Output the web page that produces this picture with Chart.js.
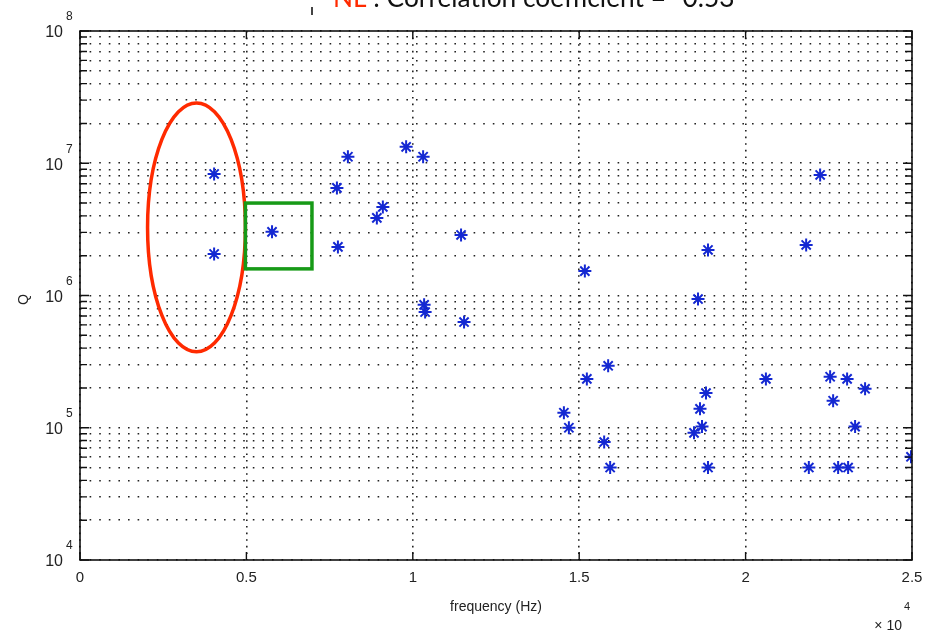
<!DOCTYPE html>
<html>
<head>
<meta charset="utf-8">
<script src="https://cdn.jsdelivr.net/npm/chart.js@4/dist/chart.umd.min.js"></script>
<style>
  body { margin: 0; background: #fff; }
  canvas { display: block; }
</style>
</head>
<body>
<canvas id="myChart" width="926" height="636"></canvas>
<script>
// frequency in units of 10^4 Hz, Q on a log axis
const freq = [0.403, 0.403, 0.577, 0.772, 0.805, 0.775, 0.892, 0.910, 0.980, 1.031,
              1.145, 1.034, 1.037, 1.154, 1.517, 1.523, 1.587, 1.454, 1.469, 1.575,
              1.593, 1.857, 1.887, 1.881, 1.863, 1.869, 1.845, 1.887, 2.061, 2.182,
              2.224, 2.190, 2.254, 2.305, 2.359, 2.263, 2.329, 2.278, 2.308, 2.497];
const qValues = [8.30e6, 2.06e6, 3.03e6, 6.51e6, 1.12e7, 2.33e6, 3.86e6, 4.67e6, 1.33e7, 1.12e7,
                 2.87e6, 8.5e5, 7.5e5, 6.3e5, 1.53e6, 2.34e5, 2.94e5, 1.30e5, 1.0e5, 7.8e4,
                 5.0e4, 9.4e5, 2.21e6, 1.83e5, 1.39e5, 1.02e5, 9.15e4, 5.0e4, 2.34e5, 2.41e6,
                 8.16e6, 5.0e4, 2.43e5, 2.34e5, 1.97e5, 1.60e5, 1.02e5, 5.0e4, 5.0e4, 6.03e4];

const xTicks = [0, 0.5, 1, 1.5, 2, 2.5];
const xTickLabels = ['0', '0.5', '1', '1.5', '2', '2.5'];
const yDecades = [4, 5, 6, 7, 8];

const titleRed = 'NL';
const titleRest = ' : Correlation coefficient = -0.53';
const xLabel = 'frequency (Hz)';
const yLabel = 'Q';

// highlighted regions (data units)
const ellipseBox = { x0: 0.203, x1: 0.497, q0: 10 ** 5.574, q1: 10 ** 7.456 };
const rectBox = { x0: 0.497, x1: 0.697, q0: 1.59e6, q1: 5.0e6 };

// every 1..9 x 10^k value gets a dotted line, like matlab's minor grid
let yGridValues = [];
for (let d = yDecades[0]; d < yDecades[yDecades.length - 1]; d++) {
    for (let m = 1; m < 10; m++) yGridValues.push(m * 10 ** d);
}
yGridValues.push(10 ** yDecades[yDecades.length - 1]);

const points = freq.map((f, i) => ({ x: f, y: qValues[i] }));

const LABEL_FONT = '"Liberation Sans", Arial, sans-serif';

const overlay = {
    id: 'overlay',
    beforeDraw(chart) {
        const ctx = chart.ctx;
        ctx.save();
        ctx.fillStyle = '#fff';
        ctx.fillRect(0, 0, chart.width, chart.height);
        ctx.restore();
    },
    afterDraw(chart) {
        const { ctx, chartArea: a, scales } = chart;
        const xs = scales.x, ys = scales.y;
        ctx.save();

        // box
        ctx.strokeStyle = '#111';
        ctx.lineWidth = 1.6;
        ctx.strokeRect(a.left, a.top, a.right - a.left, a.bottom - a.top);

        // inward tick marks
        ctx.lineWidth = 1.4;
        ctx.beginPath();
        yGridValues.forEach(v => {
            let py = ys.getPixelForValue(v);
            let len = Number.isInteger(Math.log10(v)) ? 9 : 7;
            ctx.moveTo(a.left, py); ctx.lineTo(a.left + len, py);
            ctx.moveTo(a.right, py); ctx.lineTo(a.right - len, py);
        });
        xTicks.forEach(v => {
            let px = xs.getPixelForValue(v);
            ctx.moveTo(px, a.bottom); ctx.lineTo(px, a.bottom - 8);
            ctx.moveTo(px, a.top); ctx.lineTo(px, a.top + 8);
        });
        ctx.stroke();

        // y tick labels 10^k
        ctx.fillStyle = '#222';
        yDecades.forEach(d => {
            let py = ys.getPixelForValue(10 ** d);
            ctx.font = '16px ' + LABEL_FONT;
            ctx.textAlign = 'right';
            ctx.textBaseline = 'middle';
            ctx.fillText('10', 63, py + 2);
            ctx.font = '12px ' + LABEL_FONT;
            ctx.textAlign = 'left';
            ctx.fillText(String(d), 66, py - 14);
        });

        // x tick labels
        ctx.font = '15px ' + LABEL_FONT;
        ctx.textAlign = 'center';
        ctx.textBaseline = 'middle';
        xTicks.forEach((v, i) => {
            ctx.fillText(xTickLabels[i], xs.getPixelForValue(v), 578);
        });

        // axis labels
        ctx.font = '14px ' + LABEL_FONT;
        ctx.fillText(xLabel, (a.left + a.right) / 2, 607);
        ctx.save();
        ctx.translate(24, (a.top + a.bottom) / 2 + 4);
        ctx.rotate(-Math.PI / 2);
        ctx.fillText(yLabel, 0, 0);
        ctx.restore();

        // x10^4 multiplier
        ctx.font = '14px ' + LABEL_FONT;
        ctx.textAlign = 'right';
        ctx.fillText('\u00d7 10', 902, 626);
        ctx.font = '11px ' + LABEL_FONT;
        ctx.textAlign = 'left';
        ctx.fillText('4', 904, 607);

        // red ellipse
        let ex0 = xs.getPixelForValue(ellipseBox.x0), ex1 = xs.getPixelForValue(ellipseBox.x1);
        let ey0 = ys.getPixelForValue(ellipseBox.q1), ey1 = ys.getPixelForValue(ellipseBox.q0);
        ctx.strokeStyle = '#ff2a00';
        ctx.lineWidth = 3.5;
        ctx.beginPath();
        ctx.ellipse((ex0 + ex1) / 2, (ey0 + ey1) / 2, (ex1 - ex0) / 2, (ey1 - ey0) / 2, 0, 0, Math.PI * 2);
        ctx.stroke();

        // green rectangle
        let rx0 = xs.getPixelForValue(rectBox.x0), rx1 = xs.getPixelForValue(rectBox.x1);
        let ry0 = ys.getPixelForValue(rectBox.q1), ry1 = ys.getPixelForValue(rectBox.q0);
        ctx.strokeStyle = '#179a17';
        ctx.strokeRect(rx0, ry0, rx1 - rx0, ry1 - ry0);

        // title, cut off at the top edge
        ctx.textAlign = 'left';
        ctx.textBaseline = 'alphabetic';
        ctx.font = '100px Lato, "Open Sans", sans-serif';
        let w100 = ctx.measureText(titleRed + titleRest).width;
        let size = 100 * 402 / w100;
        ctx.font = size.toFixed(1) + 'px Lato, "Open Sans", sans-serif';
        ctx.fillStyle = '#ff2a00';
        ctx.fillText(titleRed, 333, 7);
        let wRed = ctx.measureText(titleRed).width;
        ctx.fillStyle = '#111';
        ctx.fillText(titleRest, 333 + wRed, 7);

        // stray mark left of the title
        ctx.fillStyle = '#444';
        ctx.fillRect(311, 7, 2, 8);

        ctx.restore();
    }
};

const CTX = document.getElementById('myChart').getContext('2d');
const myChart = new Chart(CTX, {
    type: 'scatter',
    data: {
        datasets: [{
            data: points,
            pointStyle: 'star',
            pointRadius: 6.5,
            borderColor: '#1428d2',
            backgroundColor: '#1428d2',
            borderWidth: 2
        }]
    },
    options: {
        responsive: false,
        animation: false,
        layout: { padding: { left: 80, right: 14, top: 31, bottom: 76 } },
        plugins: { legend: { display: false }, tooltip: { enabled: false } },
        scales: {
            x: {
                type: 'linear',
                min: 0, max: 2.5,
                afterBuildTicks: s => { s.ticks = xTicks.map(v => ({ value: v })); },
                ticks: { display: false },
                grid: { color: '#222', lineWidth: 1.6, drawTicks: false },
                border: { display: false, dash: [1.6, 5] }
            },
            y: {
                type: 'logarithmic',
                min: 1e4, max: 1e8,
                afterBuildTicks: s => { s.ticks = yGridValues.map(v => ({ value: v })); },
                ticks: { display: false },
                grid: { color: '#222', lineWidth: 1.6, drawTicks: false },
                border: { display: false, dash: [1.6, 8] }
            }
        }
    },
    plugins: [overlay]
});
</script>
</body>
</html>
